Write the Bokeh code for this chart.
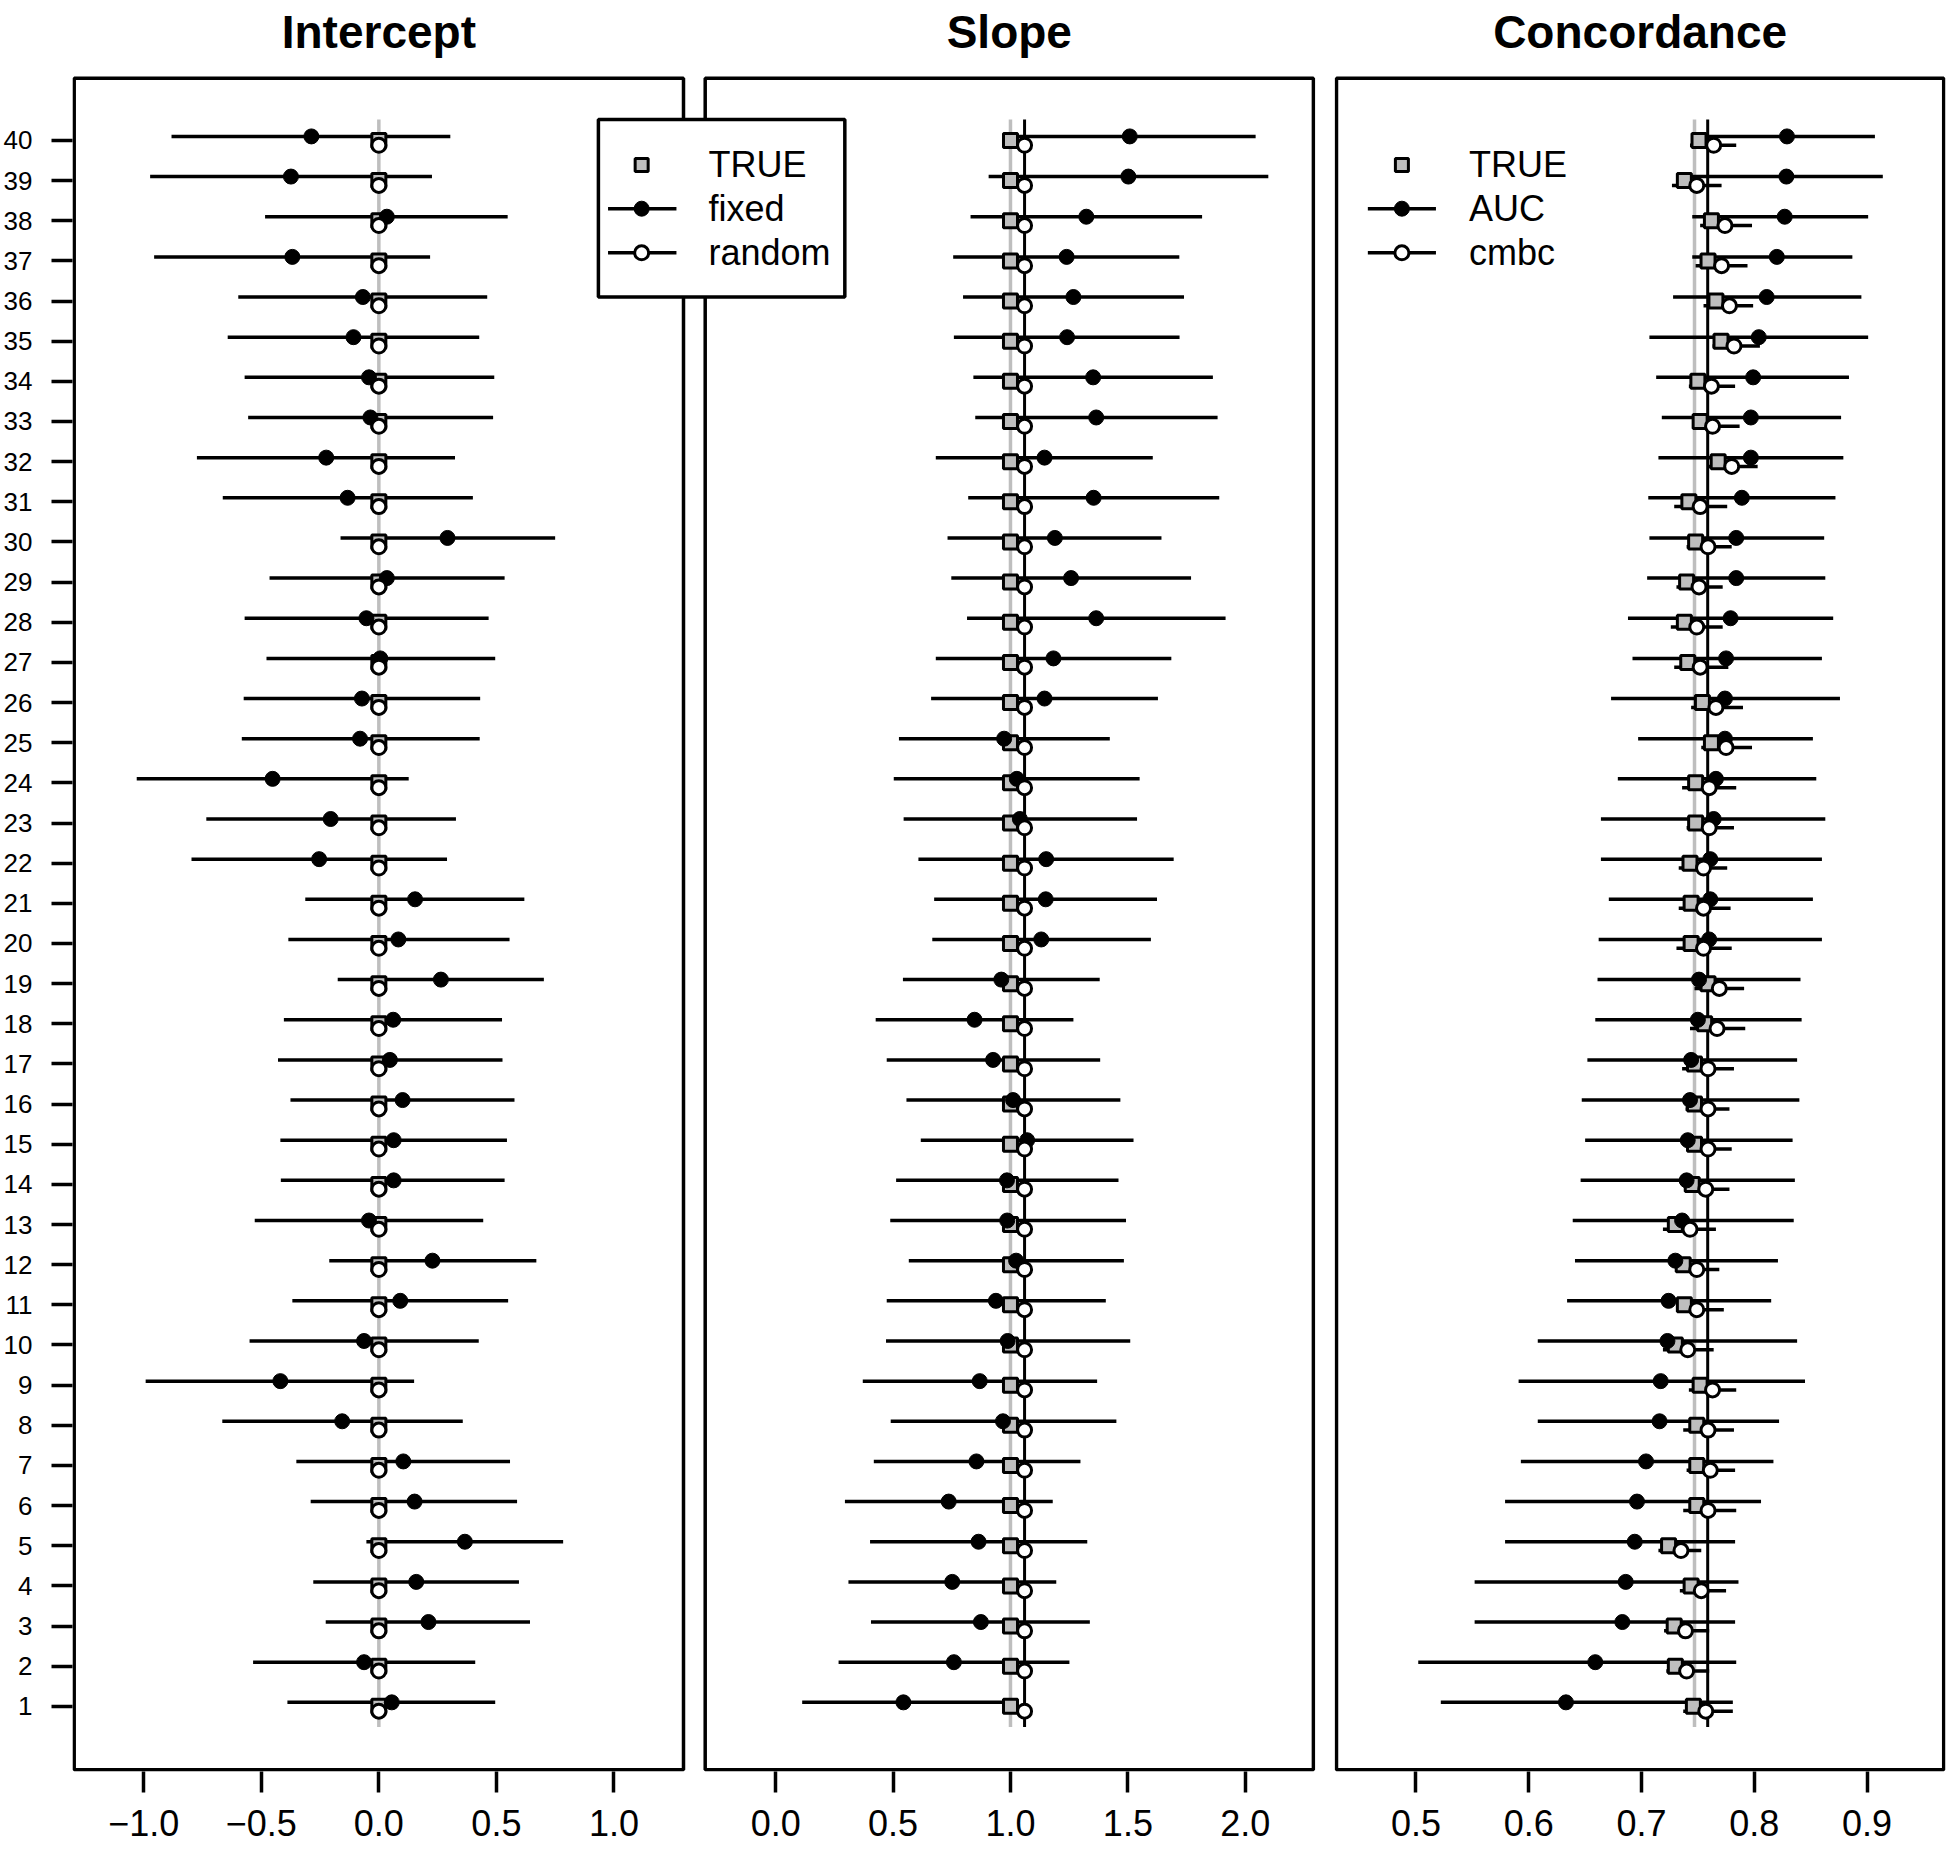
from bokeh.plotting import figure
from bokeh.layouts import row
from bokeh.models import FixedTicker, Range1d
from bokeh.embed import file_html
from bokeh.resources import INLINE
from bokeh.core.properties import value

FONT = "Liberation Sans"
GREY = "#BEBEBE"

studies = list(range(1, 41))

# ---------------- Intercept ----------------
int_fixed = [0.055, -0.063, 0.211, 0.159, 0.366, 0.152, 0.104, -0.156, -0.419, -0.063,
             0.091, 0.228, -0.042, 0.063, 0.063, 0.101, 0.047, 0.061, 0.264, 0.083,
             0.154, -0.254, -0.205, -0.452, -0.080, -0.072, 0.006, -0.053, 0.034, 0.292,
             -0.133, -0.224, -0.036, -0.042, -0.108, -0.068, -0.368, 0.034, -0.374, -0.287]
int_fixed_lo = [-0.389, -0.535, -0.226, -0.279, -0.053, -0.290, -0.351, -0.666, -0.992, -0.550,
                -0.368, -0.211, -0.528, -0.417, -0.419, -0.376, -0.429, -0.404, -0.175, -0.385,
                -0.313, -0.797, -0.734, -1.030, -0.583, -0.575, -0.478, -0.571, -0.465, -0.163,
                -0.664, -0.774, -0.556, -0.571, -0.643, -0.598, -0.956, -0.484, -0.973, -0.882]
int_fixed_hi = [0.495, 0.410, 0.643, 0.596, 0.784, 0.588, 0.558, 0.357, 0.150, 0.425,
                0.550, 0.670, 0.444, 0.535, 0.545, 0.577, 0.526, 0.524, 0.702, 0.556,
                0.619, 0.290, 0.328, 0.127, 0.429, 0.431, 0.495, 0.467, 0.535, 0.750,
                0.400, 0.324, 0.486, 0.491, 0.427, 0.461, 0.218, 0.548, 0.226, 0.304]
int_random = [0.0, 0.0, 0.0, 0.0, 0.0, 0.0, 0.0, 0.0, 0.0, 0.0,
              0.0, 0.0, 0.0, 0.0, 0.0, 0.0, 0.0, 0.0, 0.0, 0.0,
              0.0, 0.0, 0.0, 0.0, 0.0, 0.0, 0.0, 0.0, 0.0, 0.0,
              0.0, 0.0, 0.0, 0.0, 0.0, 0.0, 0.0, 0.0, 0.0, 0.0]
int_true = [0.0, 0.0, 0.0, 0.0, 0.0, 0.0, 0.0, 0.0, 0.0, 0.0,
            0.0, 0.0, 0.0, 0.0, 0.0, 0.0, 0.0, 0.0, 0.0, 0.0,
            0.0, 0.0, 0.0, 0.0, 0.0, 0.0, 0.0, 0.0, 0.0, 0.0,
            0.0, 0.0, 0.0, 0.0, 0.0, 0.0, 0.0, 0.0, 0.0, 0.0]
int_true_line = 0.0

# ---------------- Slope ----------------
slope_fixed = [0.544, 0.759, 0.874, 0.752, 0.864, 0.737, 0.855, 0.968, 0.869, 0.988,
               0.938, 1.024, 0.986, 0.985, 1.071, 1.011, 0.926, 0.847, 0.961, 1.131,
               1.150, 1.152, 1.040, 1.027, 0.973, 1.145, 1.183, 1.365, 1.258, 1.189,
               1.354, 1.145, 1.365, 1.352, 1.241, 1.268, 1.239, 1.323, 1.502, 1.508]
slope_fixed_lo = [0.113, 0.268, 0.406, 0.310, 0.402, 0.295, 0.418, 0.490, 0.371, 0.470,
                  0.473, 0.567, 0.488, 0.513, 0.618, 0.557, 0.473, 0.426, 0.542, 0.667,
                  0.675, 0.608, 0.545, 0.503, 0.525, 0.662, 0.682, 0.815, 0.748, 0.732,
                  0.820, 0.682, 0.850, 0.842, 0.759, 0.798, 0.756, 0.830, 0.907, 1.020]
slope_fixed_hi = [1.000, 1.251, 1.338, 1.195, 1.327, 1.180, 1.298, 1.451, 1.369, 1.510,
                  1.406, 1.483, 1.492, 1.460, 1.524, 1.468, 1.382, 1.268, 1.380, 1.598,
                  1.624, 1.695, 1.539, 1.550, 1.423, 1.628, 1.685, 1.916, 1.769, 1.643,
                  1.889, 1.606, 1.882, 1.862, 1.720, 1.739, 1.719, 1.816, 2.098, 2.044]
slope_random = [1.06, 1.06, 1.06, 1.06, 1.06, 1.06, 1.06, 1.06, 1.06, 1.06,
                1.06, 1.06, 1.06, 1.06, 1.06, 1.06, 1.06, 1.06, 1.06, 1.06,
                1.06, 1.06, 1.06, 1.06, 1.06, 1.06, 1.06, 1.06, 1.06, 1.06,
                1.06, 1.06, 1.06, 1.06, 1.06, 1.06, 1.06, 1.06, 1.06, 1.06]
slope_true = [1.0, 1.0, 1.0, 1.0, 1.0, 1.0, 1.0, 1.0, 1.0, 1.0,
              1.0, 1.0, 1.0, 1.0, 1.0, 1.0, 1.0, 1.0, 1.0, 1.0,
              1.0, 1.0, 1.0, 1.0, 1.0, 1.0, 1.0, 1.0, 1.0, 1.0,
              1.0, 1.0, 1.0, 1.0, 1.0, 1.0, 1.0, 1.0, 1.0, 1.0]
slope_true_line = 1.0
slope_pooled_line = 1.06

# ---------------- Concordance ----------------
auc = [0.633, 0.659, 0.683, 0.686, 0.694, 0.696, 0.704, 0.716, 0.717, 0.723,
       0.724, 0.730, 0.736, 0.740, 0.741, 0.743, 0.744, 0.750, 0.751, 0.760,
       0.761, 0.761, 0.764, 0.766, 0.774, 0.774, 0.775, 0.779, 0.784, 0.784,
       0.789, 0.797, 0.797, 0.799, 0.804, 0.811, 0.820, 0.827, 0.8285, 0.829]
auc_lo = [0.522, 0.502, 0.552, 0.552, 0.579, 0.579, 0.593, 0.608, 0.591, 0.608,
          0.634, 0.641, 0.639, 0.646, 0.650, 0.647, 0.652, 0.659, 0.661, 0.662,
          0.671, 0.664, 0.664, 0.679, 0.697, 0.673, 0.692, 0.688, 0.705, 0.707,
          0.706, 0.715, 0.718, 0.713, 0.707, 0.728, 0.745, 0.745, 0.740, 0.745]
auc_hi = [0.781, 0.784, 0.783, 0.786, 0.783, 0.806, 0.817, 0.822, 0.845, 0.838,
          0.815, 0.821, 0.835, 0.836, 0.834, 0.840, 0.838, 0.842, 0.841, 0.860,
          0.852, 0.860, 0.863, 0.855, 0.852, 0.876, 0.860, 0.870, 0.863, 0.862,
          0.872, 0.879, 0.877, 0.884, 0.901, 0.895, 0.887, 0.901, 0.914, 0.907]
cmbc = [0.757, 0.740, 0.739, 0.753, 0.735, 0.759, 0.761, 0.759, 0.763, 0.741,
        0.749, 0.749, 0.743, 0.757, 0.759, 0.759, 0.759, 0.767, 0.769, 0.755,
        0.755, 0.755, 0.760, 0.760, 0.775, 0.766, 0.752, 0.749, 0.751, 0.759,
        0.752, 0.780, 0.763, 0.762, 0.782, 0.778, 0.771, 0.774, 0.749, 0.764]
cmbc_lo = [0.737, 0.722, 0.720, 0.734, 0.715, 0.737, 0.740, 0.737, 0.742, 0.719,
           0.731, 0.730, 0.719, 0.738, 0.742, 0.739, 0.736, 0.743, 0.747, 0.731,
           0.733, 0.733, 0.740, 0.736, 0.753, 0.744, 0.729, 0.726, 0.731, 0.740,
           0.729, 0.759, 0.745, 0.742, 0.763, 0.755, 0.748, 0.752, 0.727, 0.743]
cmbc_hi = [0.781, 0.760, 0.760, 0.775, 0.753, 0.784, 0.783, 0.782, 0.784, 0.764,
           0.773, 0.769, 0.766, 0.778, 0.780, 0.778, 0.782, 0.792, 0.791, 0.780,
           0.779, 0.776, 0.782, 0.784, 0.798, 0.790, 0.777, 0.772, 0.772, 0.780,
           0.776, 0.803, 0.787, 0.783, 0.805, 0.799, 0.794, 0.798, 0.771, 0.784]
conc_true = [0.746, 0.730, 0.729, 0.744, 0.724, 0.749, 0.749, 0.749, 0.752, 0.730,
             0.738, 0.737, 0.730, 0.745, 0.747, 0.747, 0.747, 0.756, 0.759, 0.744,
             0.744, 0.743, 0.748, 0.748, 0.762, 0.754, 0.741, 0.738, 0.740, 0.748,
             0.742, 0.768, 0.752, 0.750, 0.7705, 0.766, 0.759, 0.762, 0.738, 0.751]
conc_true_line = 0.747
conc_pooled_line = 0.7587

# ---------------- axes / texts ----------------
titles = ["Intercept", "Slope", "Concordance"]
x_limits = [(-1.296, 1.296), (-0.300, 2.290), (0.4295, 0.968)]
y_limits = (-0.58, 41.55)
x_ticks = [[-1.0, -0.5, 0.0, 0.5, 1.0], [0.0, 0.5, 1.0, 1.5, 2.0], [0.5, 0.6, 0.7, 0.8, 0.9]]
x_tick_labels = [["\u22121.0", "\u22120.5", "0.0", "0.5", "1.0"],
                 ["0.0", "0.5", "1.0", "1.5", "2.0"],
                 ["0.5", "0.6", "0.7", "0.8", "0.9"]]
legend1_labels = ["TRUE", "fixed", "random"]
legend3_labels = ["TRUE", "AUC", "cmbc"]

# ---------------- layout in pixels ----------------
CANVAS_H = 1848
FRAME_BOTTOM = 1771
BOX_TOP_PX, BOX_BOTTOM_PX = 77.7, 1769.3
# canvas left, frame left, frame right, canvas right, box left, box right
PANELS_PX = [(0, 72, 694, 694, 73.7, 683.0),
             (694, 694, 1315, 1324, 704.7, 1312.9),
             (1324, 1334, 1945, 1946, 1336.0, 1943.2)]
TITLE_BASELINE_PX = 31.5

ky = (BOX_BOTTOM_PX - BOX_TOP_PX) / (y_limits[1] - y_limits[0])
Y_START = y_limits[0] - (FRAME_BOTTOM - BOX_BOTTOM_PX) / ky
Y_END = y_limits[1] + BOX_TOP_PX / ky
TITLE_Y = y_limits[1] + (BOX_TOP_PX - TITLE_BASELINE_PX) / ky

OFF_FIX, OFF_RAND = 0.1, -0.12
y_lo_line = min(studies) - 0.515
y_hi_line = max(studies) + 0.52
LW = 3.5


def make_fig(i, show_y):
    c0, f0, f1, c1, b0, b1 = PANELS_PX[i]
    lim0, lim1 = x_limits[i]
    kx = (b1 - b0) / (lim1 - lim0)
    xs = lim0 - (b0 - f0) / kx
    xe = lim1 + (f1 - b1) / kx
    p = figure(x_range=Range1d(xs, xe), y_range=Range1d(Y_START, Y_END),
               frame_width=f1 - f0, frame_height=FRAME_BOTTOM,
               min_border_left=f0 - c0, min_border_right=c1 - f1,
               min_border_top=0, min_border_bottom=CANVAS_H - FRAME_BOTTOM,
               toolbar_location=None, output_backend="svg",
               y_axis_location="left" if show_y else None)
    p.xgrid.visible = False
    p.ygrid.visible = False
    p.outline_line_color = None
    p.background_fill_color = "white"
    p.border_fill_color = "white"
    xa = p.xaxis[0]
    xa.ticker = FixedTicker(ticks=x_ticks[i], minor_ticks=[])
    xa.major_label_overrides = dict(zip(x_ticks[i], x_tick_labels[i]))
    xa.axis_line_color = None
    xa.major_tick_out = 21
    xa.major_tick_in = 0
    xa.major_tick_line_width = LW
    xa.major_tick_line_color = "black"
    xa.minor_tick_line_color = None
    xa.major_label_text_font = FONT
    xa.major_label_text_font_size = "36px"
    xa.major_label_text_line_height = 1.0
    xa.major_label_text_color = "black"
    xa.major_label_standoff = 17
    if show_y:
        ya = p.yaxis[0]
        ya.ticker = FixedTicker(ticks=studies, minor_ticks=[])
        ya.axis_line_color = None
        ya.major_tick_out = 21
        ya.major_tick_in = 0
        ya.major_tick_line_width = LW
        ya.major_tick_line_color = "black"
        ya.minor_tick_line_color = None
        ya.major_label_text_font = FONT
        ya.major_label_text_font_size = "26px"
        ya.major_label_text_color = "black"
        ya.major_label_standoff = 19
    # panel box
    p.quad(left=[lim0], right=[lim1], bottom=[y_limits[0]], top=[y_limits[1]],
           fill_color=None, line_color="black", line_width=LW)
    # title
    p.text(x=[(lim0 + lim1) / 2], y=[TITLE_Y], text=[titles[i]], text_font=value(FONT),
           text_font_size="46px", text_font_style="bold", text_color="black",
           text_align="center", text_baseline="alphabetic")
    return p


def draw_data(p, fx, fx_lo, fx_hi, rnd, true_vals, true_line, pooled_line=None,
              r_lo=None, r_hi=None):
    yf = [s + OFF_FIX for s in studies]
    yr = [s + OFF_RAND for s in studies]
    p.segment(x0=[true_line], y0=[y_lo_line], x1=[true_line], y1=[y_hi_line],
              line_color=GREY, line_width=LW)
    if pooled_line is not None:
        p.segment(x0=[pooled_line], y0=[y_lo_line], x1=[pooled_line], y1=[y_hi_line],
                  line_color="black", line_width=3)
    p.segment(x0=fx_lo, y0=yf, x1=fx_hi, y1=yf, line_color="black", line_width=LW)
    if r_lo is not None:
        p.segment(x0=r_lo, y0=yr, x1=r_hi, y1=yr, line_color="black", line_width=LW)
    p.scatter(x=true_vals, y=studies, marker="square", size=14, fill_color=GREY,
              line_color="black", line_width=3)
    p.scatter(x=fx, y=yf, marker="circle", size=15, fill_color="black",
              line_color="black", line_width=1)
    p.scatter(x=rnd, y=yr, marker="circle", size=14, fill_color="white",
              line_color="black", line_width=3)


legend_rows = [39.39, 38.30, 37.20]
LEG_TOP, LEG_BOTTOM = 40.52, 36.10

p1 = make_fig(0, True)
draw_data(p1, int_fixed, int_fixed_lo, int_fixed_hi, int_random, int_true, int_true_line)

p2 = make_fig(1, False)
draw_data(p2, slope_fixed, slope_fixed_lo, slope_fixed_hi, slope_random, slope_true,
          slope_true_line, slope_pooled_line)

p3 = make_fig(2, False)
draw_data(p3, auc, auc_lo, auc_hi, cmbc, conc_true, conc_true_line, conc_pooled_line,
          cmbc_lo, cmbc_hi)

# ---- legend of panel 1 (box straddles panels 1 and 2) ----
p1.quad(left=[0.934], right=[3.0], bottom=[LEG_BOTTOM], top=[LEG_TOP],
        fill_color="white", line_color="black", line_width=LW, level="overlay")
p2.quad(left=[-3.0], right=[0.2946], bottom=[LEG_BOTTOM], top=[LEG_TOP],
        fill_color="white", line_color="black", line_width=LW, level="overlay")
p1.segment(x0=[0.975, 0.975], y0=legend_rows[1:], x1=[1.266, 1.266], y1=legend_rows[1:],
           line_color="black", line_width=LW, level="overlay")
p1.scatter(x=[1.118], y=[legend_rows[0]], marker="square", size=13, fill_color=GREY,
           line_color="black", line_width=3, level="overlay")
p1.scatter(x=[1.118], y=[legend_rows[1]], marker="circle", size=15, fill_color="black",
           line_color="black", line_width=1, level="overlay")
p1.scatter(x=[1.118], y=[legend_rows[2]], marker="circle", size=14, fill_color="white",
           line_color="black", line_width=3, level="overlay")
p2.text(x=[-0.286] * 3, y=legend_rows, text=legend1_labels, text_font=value(FONT),
        text_font_size="36px", text_color="black", text_baseline="middle",
        text_align="left", level="overlay")

# ---- legend of panel 3 ----
p3.segment(x0=[0.4573, 0.4573], y0=legend_rows[1:], x1=[0.5177, 0.5177], y1=legend_rows[1:],
           line_color="black", line_width=LW)
p3.scatter(x=[0.4875], y=[legend_rows[0]], marker="square", size=13, fill_color=GREY,
           line_color="black", line_width=3)
p3.scatter(x=[0.4875], y=[legend_rows[1]], marker="circle", size=15, fill_color="black",
           line_color="black", line_width=1)
p3.scatter(x=[0.4875], y=[legend_rows[2]], marker="circle", size=14, fill_color="white",
           line_color="black", line_width=3)
p3.text(x=[0.547] * 3, y=legend_rows, text=legend3_labels, text_font=value(FONT),
        text_font_size="36px", text_color="black", text_baseline="middle",
        text_align="left")

layout = row(p1, p2, p3)
open("out.html", "w").write(file_html(layout, INLINE))
